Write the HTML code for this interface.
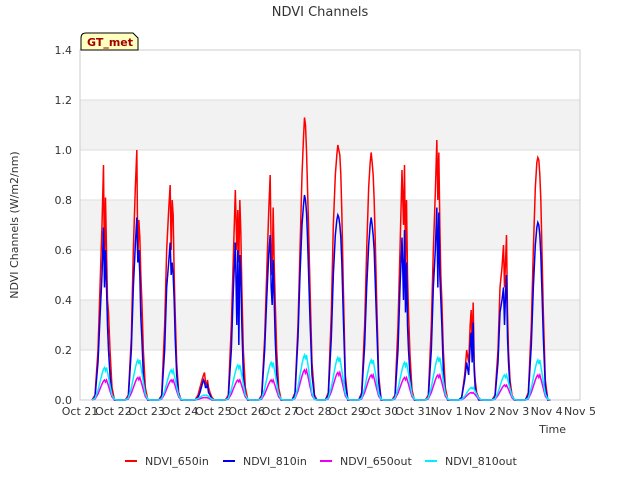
<!DOCTYPE html>
<html><head><meta charset="utf-8"><style>
body{margin:0;background:#fff;font-family:"Liberation Sans",sans-serif}
svg text{font-family:"DejaVu Sans","Liberation Sans",sans-serif}
</style></head><body>
<svg id="c" width="640" height="480">
<text x="320" y="16" text-anchor="middle" font-size="13" fill="#333">NDVI Channels</text>
<g id="bands"></g><g id="grid"></g><g id="axes"></g><g id="series"></g>
<text x="566" y="433" text-anchor="end" font-size="11" fill="#333">Time</text>
<text transform="translate(18,225) rotate(-90)" text-anchor="middle" font-size="11" fill="#333">NDVI Channels (W/m2/nm)</text>
<g><path d="M81,50 L81,38 Q81,33 86,33 L133,33 L138,38 L138,50 Z" fill="#ffffc0" stroke="#000"/><text x="87" y="46" font-size="11" font-weight="bold" fill="#a00000">GT_met</text></g>
<g id="legend"></g>
</svg>
<script>
const days=["Oct 21","Oct 22","Oct 23","Oct 24","Oct 25","Oct 26","Oct 27","Oct 28","Oct 29","Oct 30","Oct 31","Nov 1","Nov 2","Nov 3","Nov 4","Nov 5"];
const yTicks=[0,0.2,0.4,0.6,0.8,1.0,1.2,1.4];
const T=[0.36,0.45,0.54,0.60,0.66,0.705,0.735,0.765,0.795,0.825,0.855,0.90,0.96,1.035,1.11];
const in650=[
[0,0.02,0.2,0.45,0.7,0.94,0.5,0.81,0.6,0.4,0.35,0.2,0.05,0,0],
[0,0.02,0.25,0.6,0.85,1.0,0.55,0.72,0.65,0.5,0.4,0.2,0.05,0,0],
[0,0.02,0.3,0.6,0.76,0.86,0.6,0.8,0.74,0.5,0.35,0.15,0.03,0,0],
[0,0,0.02,0.05,0.08,0.1,0.11,0.07,0.06,0.08,0.05,0.03,0.01,0,0],
[0,0.02,0.3,0.57,0.84,0.6,0.76,0.55,0.8,0.67,0.45,0.2,0.05,0,0],
[0,0.02,0.25,0.5,0.75,0.9,0.6,0.5,0.77,0.55,0.4,0.2,0.05,0,0],
[0,0.03,0.3,0.6,0.9,1.05,1.13,1.1,1.0,0.85,0.7,0.45,0.15,0.02,0],
[0,0.03,0.35,0.7,0.9,0.98,1.02,1.0,0.98,0.9,0.75,0.45,0.1,0,0],
[0,0.03,0.3,0.6,0.85,0.95,0.99,0.95,0.9,0.8,0.65,0.4,0.1,0,0],
[0,0.02,0.3,0.6,0.92,0.7,0.94,0.55,0.8,0.5,0.35,0.18,0.04,0,0],
[0,0.02,0.3,0.6,0.83,1.04,0.8,0.99,0.7,0.5,0.4,0.2,0.05,0,0],
[0,0.01,0.1,0.2,0.15,0.3,0.36,0.2,0.39,0.15,0.08,0.03,0.01,0,0],
[0,0.02,0.2,0.45,0.53,0.62,0.45,0.55,0.66,0.35,0.2,0.08,0.02,0,0],
[0,0.03,0.3,0.6,0.85,0.95,0.97,0.96,0.9,0.8,0.62,0.35,0.08,0,0]];
const in810=[
[0,0.01,0.15,0.33,0.5,0.69,0.45,0.6,0.45,0.3,0.2,0.1,0.02,0,0],
[0,0.01,0.2,0.45,0.62,0.73,0.55,0.6,0.5,0.33,0.25,0.1,0.02,0,0],
[0,0.01,0.2,0.45,0.55,0.63,0.5,0.55,0.5,0.4,0.25,0.1,0.02,0,0],
[0,0,0.01,0.03,0.06,0.08,0.07,0.05,0.05,0.06,0.03,0.02,0,0,0],
[0,0.01,0.2,0.44,0.63,0.3,0.6,0.22,0.58,0.5,0.3,0.1,0.02,0,0],
[0,0.01,0.2,0.4,0.58,0.66,0.45,0.38,0.56,0.4,0.25,0.1,0.02,0,0],
[0,0.02,0.25,0.5,0.7,0.78,0.82,0.8,0.75,0.65,0.52,0.32,0.1,0.01,0],
[0,0.02,0.25,0.5,0.66,0.72,0.74,0.73,0.7,0.65,0.55,0.33,0.07,0,0],
[0,0.02,0.22,0.45,0.62,0.7,0.73,0.7,0.66,0.6,0.48,0.3,0.07,0,0],
[0,0.01,0.2,0.45,0.65,0.4,0.68,0.35,0.55,0.3,0.2,0.1,0.02,0,0],
[0,0.01,0.2,0.45,0.6,0.77,0.45,0.75,0.5,0.4,0.3,0.12,0.02,0,0],
[0,0.01,0.08,0.15,0.1,0.22,0.27,0.15,0.31,0.12,0.05,0.02,0,0,0],
[0,0.01,0.15,0.35,0.4,0.45,0.3,0.42,0.5,0.25,0.15,0.05,0.01,0,0],
[0,0.02,0.22,0.45,0.62,0.69,0.71,0.7,0.66,0.58,0.45,0.25,0.05,0,0]];
const out650=[0.08,0.09,0.08,0.01,0.08,0.08,0.12,0.11,0.1,0.09,0.1,0.03,0.06,0.1];
const out810=[0.13,0.16,0.12,0.02,0.14,0.15,0.18,0.17,0.16,0.15,0.17,0.05,0.1,0.16];
const outShape=[0,0.05,0.3,0.55,0.8,0.95,1,0.9,1,0.85,0.7,0.45,0.15,0.02,0];

const NS="http://www.w3.org/2000/svg",X0=80,X1=580,Y0=400,Y1=50;
const xs=d=>X0+(X1-X0)*d/(days.length-1);
const ys=v=>Y0-(Y0-Y1)*v/1.4;
function mk(tag,attrs,parent){const e=document.createElementNS(NS,tag);for(const k in attrs)e.setAttribute(k,attrs[k]);document.getElementById(parent).appendChild(e);return e;}
for(let i=1;i<yTicks.length-1;i+=2){const r=mk('rect',{x:X0,y:ys(yTicks[i+1]),width:X1-X0,height:ys(yTicks[i])-ys(yTicks[i+1]),fill:'#f2f2f2'},'bands');

}
yTicks.forEach(v=>{const l=mk('line',{x1:X0,x2:X1,y1:ys(v),y2:ys(v),stroke:'#ddd'},'grid');


const t=mk('text',{x:X0-8,y:ys(v)+4,'text-anchor':'end','font-size':11,fill:'#333'},'axes');t.textContent=v.toFixed(1);

});
days.forEach((d,i)=>{const t=mk('text',{x:xs(i),y:415,'text-anchor':'middle','font-size':11,fill:'#333'},'axes');t.textContent=d;

});
const b=mk('rect',{x:X0,y:Y1,width:X1-X0,height:Y0-Y1,fill:'none',stroke:'#ccc'},'axes');


function ptsFor(getv){let p=[];for(let d=0;d<14;d++){T.forEach((t,j)=>p.push(xs(d+t).toFixed(2)+','+ys(getv(d,j)).toFixed(2)));}return p.join(' ');}
const series=[
['ndvi-650in-line','#ff0000',(d,j)=>in650[d][j]],
['ndvi-810in-line','#0000ee',(d,j)=>in810[d][j]],
['ndvi-650out-line','#ee00ee',(d,j)=>out650[d]*outShape[j]],
['ndvi-810out-line','#00eeff',(d,j)=>out810[d]*outShape[j]]];
series.forEach(s=>{const l=mk('polyline',{points:ptsFor(s[2]),fill:'none',stroke:s[1],'stroke-width':1.5},'series');

});
const leg=[['NDVI_650in','#ff0000',125],['NDVI_810in','#0000ee',223],['NDVI_650out','#ee00ee',320],['NDVI_810out','#00eeff',425]];
leg.forEach(e=>{const g=mk('g',{},'legend');


const l=document.createElementNS(NS,'line');l.setAttribute('x1',e[2]);l.setAttribute('x2',e[2]+12);l.setAttribute('y1',461);l.setAttribute('y2',461);l.setAttribute('stroke',e[1]);l.setAttribute('stroke-width',2);g.appendChild(l);
const t=document.createElementNS(NS,'text');t.setAttribute('x',e[2]+20);t.setAttribute('y',465);t.setAttribute('font-size',11);t.setAttribute('fill','#333');t.textContent=e[0];g.appendChild(t);});
</script>
</body></html>
